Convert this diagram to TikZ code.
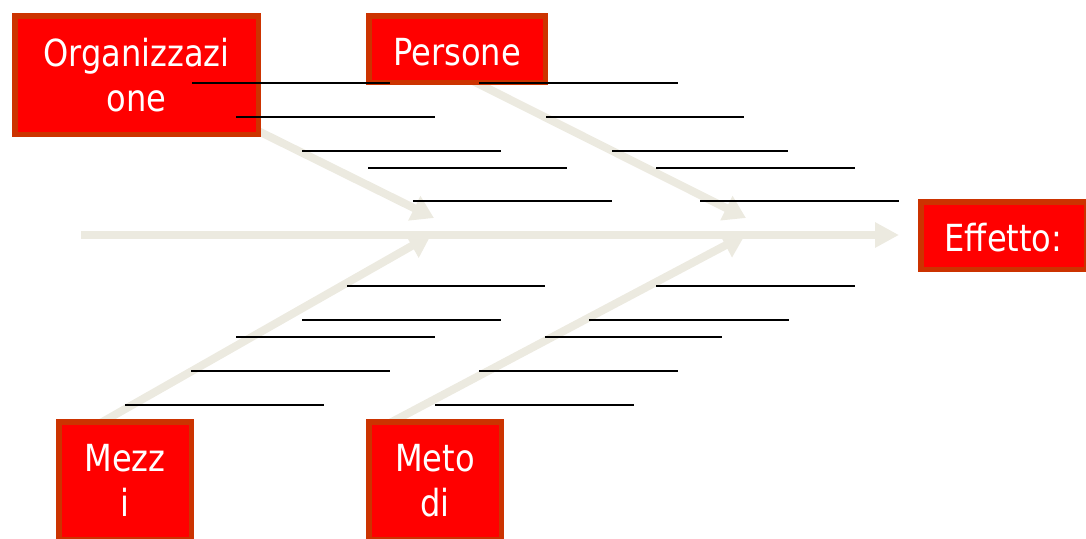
\documentclass[tikz,border=0pt]{standalone}
\usepackage{fontspec}
\setmainfont{DejaVu Sans}[FakeStretch=0.86]
\usetikzlibrary{arrows.meta}
\definecolor{boxred}{RGB}{255,0,0}
\definecolor{boxedge}{RGB}{204,51,0}
\definecolor{bonecol}{RGB}{236,234,224}
\begin{document}
\begin{tikzpicture}[x=1pt,y=-1pt,
  box/.style={draw=boxedge, line width=5.5pt, fill=boxred, text=white, inner sep=0pt,
    align=center, font=\fontsize{37.3}{45}\selectfont},
  bone/.style={draw=bonecol, line width=8pt, -{Triangle[width=26pt,length=22pt]}},
  spine/.style={draw=bonecol, line width=8pt, -{Triangle[width=24pt,length=24pt]}},
  blank/.style={draw=black, line width=2pt}]
\useasboundingbox (0,0) rectangle (1086,538);
\clip (0,0) rectangle (1086,538);
% spine
\coordinate (tail) at (81,235);
\coordinate (head) at (899,235);
% bone ends
\coordinate (ulS) at (240,122);  \coordinate (ulT) at (434,218);
\coordinate (urS) at (451,70);   \coordinate (urT) at (746,218);
\coordinate (llS) at (97,425);   \coordinate (llT) at (431,235);
\coordinate (lrS) at (386,425);  \coordinate (lrT) at (745,235);
\draw[bone] (ulS) -- (ulT);
\draw[bone] (urS) -- (urT);
\draw[bone] (llS) -- (llT);
\draw[bone] (lrS) -- (lrT);
\draw[spine] (tail) -- (head);
% boxes
\node[box, minimum width=243.5pt, minimum height=118.5pt] (org) at (136.5,75) {Organizzazi\\one};
\node[box, minimum width=176.5pt, minimum height=66.5pt, text height=32pt, text depth=0pt] (pers) at (457,49) {Persone};
\node[box, minimum width=165.5pt, minimum height=67.5pt, text height=31.7pt, text depth=0pt] (eff) at (1003.5,235.5) {Effetto:};
\node[box, minimum width=132.5pt, minimum height=117.5pt] (mezzi) at (125,480.5) {Mezz\\i};
\node[box, minimum width=132.5pt, minimum height=117.5pt] (metodi) at (435,480.5) {Meto\\di};
% blank lines
\foreach \y/\a/\b in {83/192/390, 83/479/678,
  117/236/435, 117/546/744,
  151/302/501, 151/612/788,
  168/368/567, 168/656/855,
  201/413/612, 201/700/899,
  286/347/545, 286/656/855,
  320/302/501, 320/589/789,
  337/236/435, 337/545/722,
  371/191/390, 371/479/678,
  405/125/324, 405/435/634}
  \draw[blank] (\a,\y) -- (\b,\y);
\end{tikzpicture}
\end{document}
